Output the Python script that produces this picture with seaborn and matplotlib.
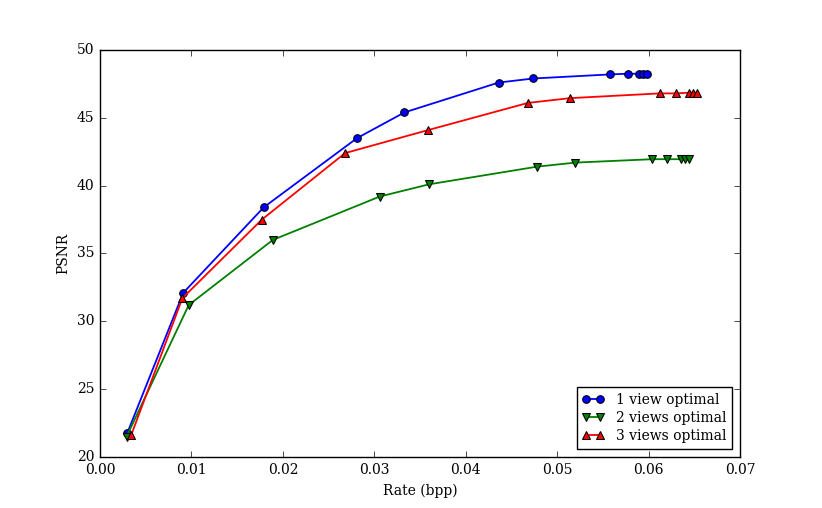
import seaborn as sns
import matplotlib
matplotlib.use('Agg')
import matplotlib.pyplot as plt
import pandas as pd

names = ['1 view optimal', '2 views optimal', '3 views optimal']

rate_1 = [0.0030, 0.0091, 0.0179, 0.0281, 0.0333, 0.0436, 0.0474, 0.0558, 0.0577, 0.0590, 0.0594, 0.0598]
psnr_1 = [21.8, 32.1, 38.4, 43.5, 45.4, 47.6, 47.9, 48.2, 48.25, 48.25, 48.25, 48.25]

rate_2 = [0.0029, 0.0097, 0.0189, 0.0306, 0.0360, 0.0478, 0.0520, 0.0604, 0.0620, 0.0635, 0.0640, 0.0644]
psnr_2 = [21.5, 31.2, 36.0, 39.2, 40.1, 41.4, 41.7, 41.95, 41.95, 41.95, 41.95, 41.95]

rate_3 = [0.0034, 0.0090, 0.0177, 0.0268, 0.0359, 0.0468, 0.0514, 0.0612, 0.0630, 0.0644, 0.0649, 0.0653]
psnr_3 = [21.6, 31.7, 37.5, 42.4, 44.1, 46.1, 46.45, 46.8, 46.8, 46.85, 46.85, 46.85]

df = pd.concat([
    pd.DataFrame({'rate': rate_1, 'psnr': psnr_1, 'series': names[0]}),
    pd.DataFrame({'rate': rate_2, 'psnr': psnr_2, 'series': names[1]}),
    pd.DataFrame({'rate': rate_3, 'psnr': psnr_3, 'series': names[2]}),
])

plt.style.use('classic')
plt.rcParams['font.family'] = ['DejaVu Serif']
plt.rcParams['font.size'] = 10
fig = plt.figure(figsize=(8.22, 5.08), dpi=100, facecolor='white')
ax = fig.add_axes([0.1217, 0.1004, 0.7786, 0.8012])

sns.lineplot(data=df, x='rate', y='psnr', hue='series', style='series',
             palette={names[0]: '#0000ff', names[1]: '#008000', names[2]: '#ff0000'},
             markers={names[0]: 'o', names[1]: 'v', names[2]: '^'},
             dashes=False, markeredgecolor='k', markersize=5.5, linewidth=1.3,
             ax=ax)

ax.set_xlim(0, 0.07)
ax.set_ylim(20, 50)
ax.set_xlabel('Rate (bpp)', fontsize=10)
ax.set_ylabel('PSNR', fontsize=10)
ax.tick_params(labelsize=10)
ax.xaxis.set_major_formatter(matplotlib.ticker.FormatStrFormatter('%.2f'))
leg = ax.legend(loc='lower right', fontsize=10, handlelength=1.6,
                labelspacing=0.3, borderaxespad=0.6)
leg.set_title(None)

fig.savefig('out.png', dpi=100, facecolor='white')
